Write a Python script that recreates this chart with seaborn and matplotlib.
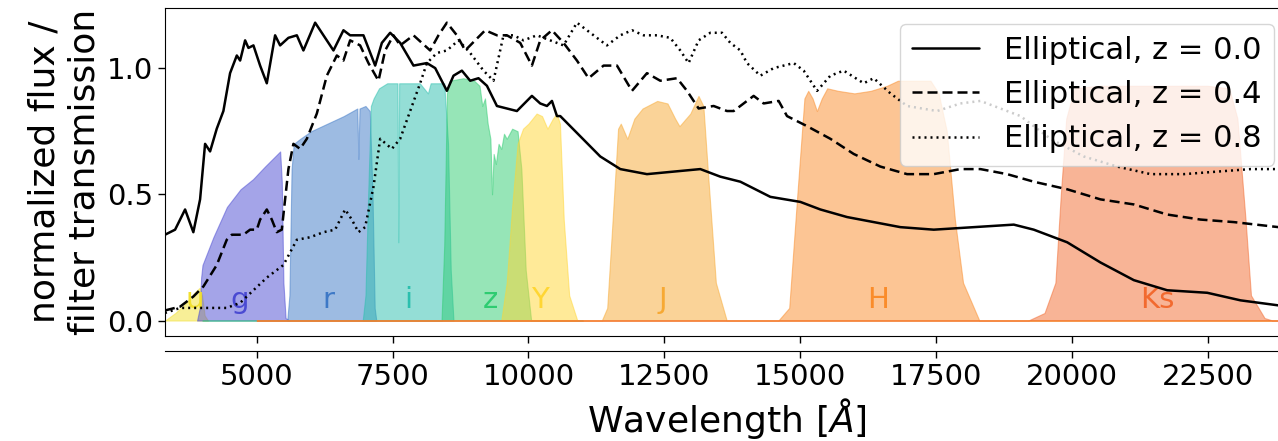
import numpy as np
import pandas as pd
import matplotlib
matplotlib.use("Agg")
import matplotlib.pyplot as plt
import seaborn as sns

# ======== data ========

# elliptical template, z = 0.0
wl_z00 = [3310, 3496, 3680, 3832, 3956, 4048, 4140, 4263, 4385, 4508, 4632, 4693, 4785, 4846,
          4938, 5061, 5184, 5337, 5429, 5582, 5737, 5858, 6074, 6227, 6411, 6595, 6718, 6963,
          7179, 7302, 7455, 7639, 7884, 8131, 8284, 8499, 8621, 8775, 8928, 9081, 9236, 9420,
          9604, 9788, 9972, 10064, 10217, 10341, 10433, 10525, 10586, 10954, 11322, 11691,
          12182, 12672, 13164, 13532, 13901, 14453, 15005, 15374, 15865, 16356, 16847, 17461,
          18198, 18934, 19302, 19917, 20530, 21144, 21758, 22495, 23108, 23808, 24000]
fl_z00 = [0.34, 0.36, 0.44, 0.35, 0.48, 0.70, 0.67, 0.76, 0.83, 0.98, 1.05, 1.03, 1.11, 1.08,
          1.09, 1.01, 0.94, 1.13, 1.09, 1.12, 1.13, 1.07, 1.18, 1.13, 1.07, 1.15, 1.13, 1.13,
          1.01, 1.10, 1.14, 1.10, 1.01, 1.02, 1.00, 0.91, 0.97, 0.99, 0.95, 0.96, 0.93, 0.85,
          0.84, 0.83, 0.87, 0.89, 0.86, 0.85, 0.87, 0.81, 0.81, 0.73, 0.65, 0.60,
          0.58, 0.59, 0.60, 0.57, 0.55, 0.49, 0.47, 0.44, 0.41, 0.39, 0.37, 0.36,
          0.37, 0.38, 0.36, 0.31, 0.23, 0.16, 0.12, 0.11, 0.08, 0.06, 0.055]

# elliptical template, z = 0.4
wl_z04 = [3310, 3588, 3832, 4017, 4263, 4447, 4540, 4753, 4877, 5000, 5061, 5184, 5276, 5368,
          5460, 5582, 5674, 5797, 5921, 6105, 6289, 6473, 6595, 6718, 6902, 7055, 7240, 7363,
          7516, 7639, 7884, 8191, 8344, 8499, 8683, 8836, 9020, 9204, 9420, 9604, 9849, 10064,
          10217, 10433, 10646, 10893, 11107, 11383, 11630, 11906, 12182, 12427, 12735, 12919,
          13133, 13409, 13655, 13778, 14023, 14146, 14330, 14606, 14760, 15129, 15558, 15987,
          16478, 16970, 17461, 17952, 18320, 18811, 19302, 19917, 20530, 21144, 21758, 22372,
          22985, 23808, 24000]
fl_z04 = [0.04, 0.055, 0.095, 0.135, 0.22, 0.32, 0.34, 0.34, 0.36, 0.36, 0.40, 0.44, 0.40, 0.35,
          0.36, 0.60, 0.70, 0.68, 0.72, 0.82, 0.97, 1.05, 1.03, 1.11, 1.09, 1.02, 0.95, 1.07,
          1.13, 1.09, 1.13, 1.07, 1.13, 1.18, 1.13, 1.07, 1.11, 1.15, 1.13, 1.13, 1.10, 1.01,
          1.11, 1.15, 1.10, 1.03, 0.96, 1.01, 1.01, 0.91, 0.98, 0.95, 0.96, 0.91,
          0.84, 0.85, 0.83, 0.83, 0.87, 0.89, 0.86, 0.87, 0.81, 0.77, 0.72, 0.66,
          0.61, 0.58, 0.58, 0.60, 0.60, 0.58, 0.55, 0.52, 0.48, 0.46, 0.42, 0.40,
          0.39, 0.37, 0.37]

# elliptical template, z = 0.8
wl_z08 = [3310, 3588, 3832, 4140, 4447, 4693, 4938, 5184, 5490, 5737, 5982, 6227, 6442, 6626,
          6749, 6871, 6994, 7148, 7271, 7486, 7639, 7823, 8007, 8131, 8315, 8499, 8713, 8928,
          9173, 9357, 9541, 9726, 9910, 10156, 10401, 10646, 10893, 11077, 11261, 11445, 11691,
          11906, 12120, 12366, 12611, 12795, 12948, 13133, 13348, 13563, 13716, 13901, 14023,
          14269, 14514, 14883, 15067, 15313, 15558, 15803, 16172, 16356, 16663, 16970, 17522,
          17952, 18320, 18689, 19057, 19609, 20223, 20837, 21451, 22065, 22679, 23293, 23808,
          24000]
fl_z08 = [0.03, 0.05, 0.05, 0.05, 0.05, 0.07, 0.12, 0.17, 0.22, 0.32, 0.33, 0.35, 0.36, 0.44,
          0.40, 0.35, 0.37, 0.53, 0.72, 0.68, 0.72, 0.83, 0.94, 1.02, 1.06, 1.07, 1.11, 1.06,
          0.99, 0.95, 1.13, 1.13, 1.11, 1.13, 1.11, 1.09, 1.18, 1.15, 1.12, 1.09, 1.13,
          1.15, 1.13, 1.13, 1.12, 1.07, 1.02, 1.11, 1.14, 1.14, 1.10, 1.07, 1.02,
          0.97, 1.00, 1.02, 0.99, 0.91, 0.97, 0.99, 0.94, 0.96, 0.90, 0.85, 0.83,
          0.86, 0.87, 0.84, 0.81, 0.72, 0.65, 0.61, 0.58, 0.58, 0.59, 0.60, 0.60,
          0.60]

spec_labels = ["Elliptical, z = 0.0", "Elliptical, z = 0.4", "Elliptical, z = 0.8"]

# filter transmission curves
wl_u = [3310, 3500, 3700, 3850, 3950, 3990, 4040, 4100]
tr_u = [0.00, 0.03, 0.07, 0.11, 0.13, 0.10, 0.02, 0.00]

wl_g = [3900, 3950, 3975, 4000, 4200, 4450, 4700, 4930, 5150, 5430, 5460, 5490, 5530, 5600]
tr_g = [0.00, 0.05, 0.17, 0.22, 0.33, 0.45, 0.52, 0.56, 0.61, 0.67, 0.55, 0.15, 0.01, 0.00]

wl_r = [5560, 5600, 5640, 5680, 5800, 6000, 6300, 6600, 6850, 6870, 6890, 7000, 7080, 7130, 7170, 7200]
tr_r = [0.00, 0.10, 0.60, 0.70, 0.72, 0.75, 0.78, 0.81, 0.84, 0.64, 0.84, 0.85, 0.83, 0.50, 0.05, 0.00]

wl_i = [6950, 7000, 7050, 7100, 7150, 7250, 7400, 7590, 7605, 7620, 8000, 8150, 8200, 8450, 8520, 8570, 8620]
tr_i = [0.00, 0.10, 0.50, 0.85, 0.88, 0.92, 0.94, 0.94, 0.31, 0.94, 0.94, 0.90, 0.94, 0.94, 0.70, 0.20, 0.00]

wl_z = [4000, 8400, 8450, 8500, 8550, 8800, 9000, 9100, 9150, 9200, 9250, 9300, 9330, 9360,
        9400, 9450, 9500, 9550, 9600, 9700, 9800, 9870, 9950, 10050, 11000]
tr_z = [0.00, 0.00, 0.30, 0.90, 0.95, 0.96, 0.95, 0.93, 0.85, 0.88, 0.78, 0.72, 0.50, 0.66,
        0.62, 0.70, 0.68, 0.74, 0.72, 0.76, 0.75, 0.60, 0.20, 0.00, 0.00]

wl_Y = [9500, 9600, 9700, 9800, 9900, 10000, 10150, 10250, 10350, 10450, 10520, 10580, 10650, 10750, 10900]
tr_Y = [0.00, 0.15, 0.45, 0.70, 0.76, 0.78, 0.82, 0.81, 0.76, 0.80, 0.82, 0.78, 0.40, 0.10, 0.00]

wl_J = [5000, 11350, 11450, 11550, 11650, 11700, 11820, 11950, 12100, 12370, 12560, 12700,
        12780, 12980, 13130, 13220, 13300, 13450, 13650, 24000]
tr_J = [0.00, 0.00, 0.05, 0.40, 0.76, 0.78, 0.72, 0.80, 0.84, 0.87, 0.86, 0.80,
        0.77, 0.82, 0.89, 0.85, 0.60, 0.15, 0.00, 0.00]

wl_H = [5000, 14600, 14800, 14950, 15080, 15150, 15230, 15310, 15400, 15500, 15700, 16000, 16300,
        16600, 16800, 17100, 17400, 17550, 17700, 17850, 18000, 18300, 24000]
tr_H = [0.00, 0.00, 0.05, 0.50, 0.88, 0.91, 0.88, 0.83, 0.88, 0.92, 0.91, 0.90, 0.91,
        0.93, 0.95, 0.95, 0.95, 0.90, 0.75, 0.40, 0.15, 0.00, 0.00]

wl_Ks = [5000, 19200, 19500, 19700, 19800, 19900, 20050, 20500, 21500, 22500, 22900, 23050,
         23200, 23300, 23550, 23700, 24000]
tr_Ks = [0.00, 0.00, 0.03, 0.15, 0.50, 0.80, 0.92, 0.93, 0.93, 0.93, 0.92, 0.80,
         0.40, 0.10, 0.01, 0.00, 0.00]

filter_names = ["u", "g", "r", "i", "z", "Y", "J", "H", "Ks"]
filter_colors = ["#f2e030", "#4a4ad2", "#3d78c6", "#2bbfae", "#2ecc71",
                 "#ffd633", "#f7a933", "#fa8c2a", "#f26a2f"]
label_wl = [3864, 4692, 6313, 7786, 9296, 10217, 12482, 16441, 21579]

filters = {"u": (wl_u, tr_u), "g": (wl_g, tr_g), "r": (wl_r, tr_r), "i": (wl_i, tr_i),
           "z": (wl_z, tr_z), "Y": (wl_Y, tr_Y), "J": (wl_J, tr_J), "H": (wl_H, tr_H),
           "Ks": (wl_Ks, tr_Ks)}

# ======== plot ========

sns.set_style("ticks", {"axes.edgecolor": "black", "xtick.color": "black",
                        "ytick.color": "black", "text.color": "black",
                        "axes.labelcolor": "black"})
plt.rcParams["font.family"] = ["DejaVu Sans"]
plt.rcParams["mathtext.fontset"] = "dejavusans"

fig = plt.figure(figsize=(12.78, 4.41), dpi=100)
ax = fig.add_axes([0.1291, 0.2388, 0.8795, 0.7424])

for name, col in zip(filter_names, filter_colors):
    wl, tr = filters[name]
    ax.fill_between(wl, 0, tr, color=col, alpha=0.5, linewidth=0.8, zorder=1)

for name, col, lx in zip(filter_names, filter_colors, label_wl):
    ax.text(lx, 0.08, name, color=col, fontsize=21, ha="center", va="center", zorder=2)

spectra = [(wl_z00, fl_z00, "-"), (wl_z04, fl_z04, (0, (4, 2))), (wl_z08, fl_z08, (0, (0.8, 1.6)))]
for (wl, fl, ls), lab in zip(spectra, spec_labels):
    sns.lineplot(x=wl, y=fl, color="black", linestyle=ls, linewidth=1.8,
                 label=lab, ax=ax, zorder=3)

ax.set_xlim(3310, 24000)
ax.set_ylim(-0.06, 1.237)
xt = np.arange(5000, 22501, 2500)
ax.set_xticks(xt)
ax.set_yticks([0.0, 0.5, 1.0])
ax.tick_params(axis="x", labelbottom=False)
ax.tick_params(axis="both", labelsize=21, direction="out", length=5, width=1)
ax.set_ylabel("normalized flux /\nfilter transmission", fontsize=26)
ax.set_xlabel("")

sec = ax.secondary_xaxis(-0.0467)
sec.set_xticks(xt)
sec.tick_params(labelsize=21, direction="out", length=5, width=1)
sec.set_xlabel(r"Wavelength [$\AA$]", fontsize=26)

ax.legend(loc="upper right", fontsize=22, handlelength=2.2, framealpha=0.8)

fig.savefig("out.png", dpi=100)
